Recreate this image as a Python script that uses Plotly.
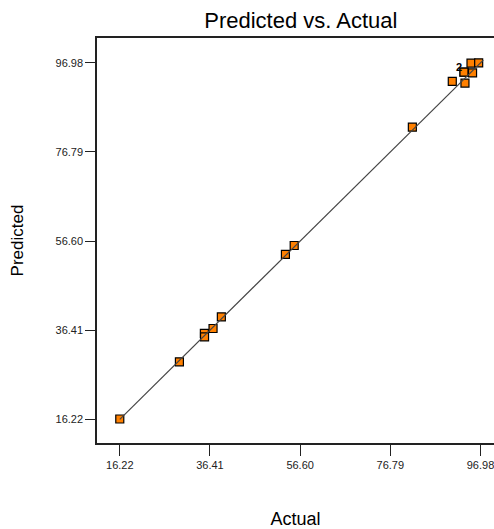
import plotly.graph_objects as go

actual = [16.22, 29.57, 35.16, 35.20, 37.10, 38.96, 53.30, 55.27, 81.72,
          90.66, 93.50, 93.28, 93.28, 95.20, 94.85, 96.57]
predicted = [16.30, 29.25, 35.68, 34.90, 36.80, 39.43, 53.60, 55.60, 82.40,
             92.76, 92.40, 94.86, 94.86, 94.70, 96.90, 96.98]
tick_vals = [16.22, 36.41, 56.60, 76.79, 96.98]
tick_text = ["16.22", "36.41", "56.60", "76.79", "96.98"]
fit_line = [16.22, 97.6]
dup_label = "2"

FONT = "Liberation Sans, Arial"

fig = go.Figure()
fig.add_trace(go.Scatter(
    x=actual, y=predicted, mode="markers",
    marker=dict(symbol="square", size=8, color="#FF8000",
                line=dict(color="#000000", width=1.2)),
    showlegend=False, hoverinfo="x+y"))
fig.add_trace(go.Scatter(
    x=fit_line, y=fit_line, mode="lines",
    line=dict(color="#444444", width=1.2), showlegend=False, hoverinfo="skip"))
fig.add_annotation(x=actual[11], y=predicted[11], text="<b>" + dup_label + "</b>",
                   showarrow=False, xshift=-5, yshift=5,
                   font=dict(family=FONT, size=11, color="#000000"))

axis_common = dict(
    tickmode="array", tickvals=tick_vals, ticktext=tick_text,
    showgrid=False, zeroline=False, showline=True, linecolor="#222222", linewidth=1.5,
    ticks="outside", tickcolor="#222222", tickwidth=1.2,
    tickfont=dict(family=FONT, size=11, color="#222222"),
    ticklabeloverflow="allow",
)
fig.update_layout(
    width=494, height=529,
    margin=dict(l=97, r=0, t=38, b=86),
    paper_bgcolor="white", plot_bgcolor="white",
    title=dict(text="Predicted vs. Actual", x=0.609, xanchor="center", y=0.962, yanchor="middle",
               font=dict(family=FONT, size=22, color="#000000")),
    xaxis=dict(range=[11.12, 100.0], mirror=True, ticklen=11,
               title=dict(text="Actual", standoff=46,
                          font=dict(family=FONT, size=18, color="#000000")),
               **axis_common),
    yaxis=dict(range=[10.86, 102.6], mirror=False, ticklen=10,
               title=dict(text="Predicted", standoff=28,
                          font=dict(family=FONT, size=17, color="#000000")),
               **axis_common),
)
fig.write_html("out.html", config={"displayModeBar": False},
               post_script="document.body.style.margin='0';document.body.style.overflow='hidden';")
